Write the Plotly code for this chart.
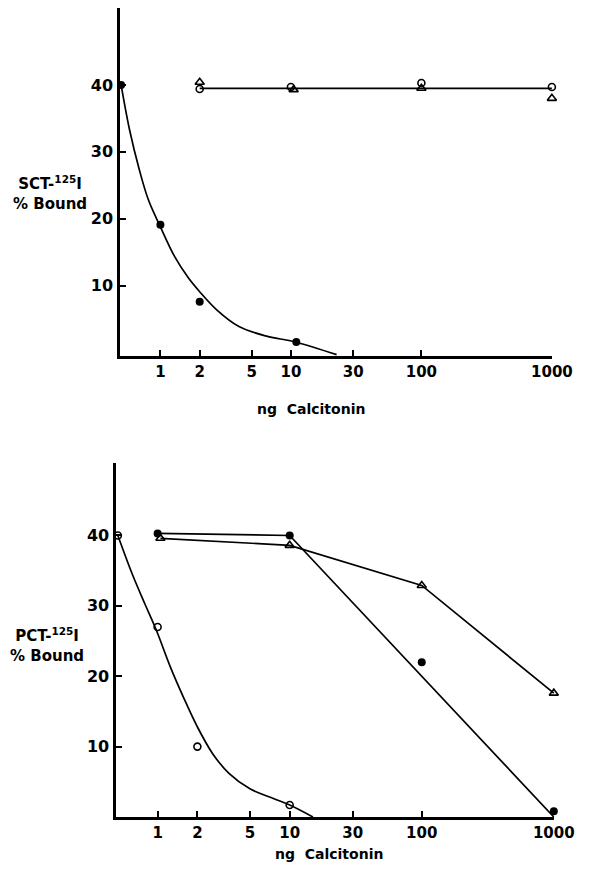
import plotly.graph_objects as go
import numpy as np

# ---- data ----
# control (0 ng) plotted at the axis origin, 0.5 ng position
tick_vals = [1, 2, 5, 10, 30, 100, 1000]
tick_text = ["1", "2", "5", "10", "30", "100", "1000"]
y_ticks = [10, 20, 30, 40]

# Top panel: SCT-125I % bound
sct_fill_x = [0.5, 1, 2, 11]
sct_fill_y = [40, 19.1, 7.6, 1.6]
sct_fit_x = [0.5, 0.58, 0.69, 0.81, 1, 1.29, 1.62, 2, 2.7, 4.0, 6.4, 10.8, 22.4]
sct_fit_y = [40, 33.3, 27.3, 22.8, 18.8, 14.3, 11.3, 9.1, 6.4, 3.9, 2.5, 1.6, -0.3]
sct_open_x = [2, 10, 100, 1000]
sct_open_y = [39.4, 39.7, 40.3, 39.7]
sct_tri_x = [2, 10.5, 100, 1000]
sct_tri_y = [40.4, 39.3, 39.5, 38.0]
sct_line_x = [2, 10, 100, 1000]
sct_line_y = [39.5, 39.5, 39.5, 39.5]

# Bottom panel: PCT-125I % bound
pct_open_x = [0.5, 1, 2, 10]
pct_open_y = [40, 27, 10, 1.7]
pct_fit_x = [0.5, 0.64, 0.8, 0.98, 1.25, 1.57, 2, 2.61, 3.47, 5, 7.6, 10, 15]
pct_fit_y = [40, 34.6, 30.3, 26.5, 21.3, 17.0, 12.8, 9.0, 6.2, 4.0, 2.6, 1.7, 0]
pct_fill_x = [1, 10, 100, 1000]
pct_fill_y = [40.3, 40.0, 22.0, 0.8]
pct_fill_line_x = [1, 10, 1000]
pct_fill_line_y = [40.3, 40.0, 0]
pct_tri_x = [1.05, 10, 100, 1000]
pct_tri_y = [39.6, 38.6, 32.9, 17.6]

BLACK = "#000000"
FONT = "DejaVu Sans"

fig = go.Figure()

def add(x, y, mode, xa, ya, marker=None, line=None, shape="linear"):
    kw = dict(x=x, y=y, mode=mode, xaxis=xa, yaxis=ya, showlegend=False,
              hoverinfo="skip", cliponaxis=False)
    if marker:
        kw["marker"] = marker
    if line:
        kw["line"] = dict(line, shape=shape)
    fig.add_trace(go.Scatter(**kw))

filled = dict(symbol="circle", size=8, color=BLACK)
opencirc = dict(symbol="circle-open", size=7, color=BLACK, line=dict(width=1.6, color=BLACK))
opentri = dict(symbol="triangle-up-open", size=8, color=BLACK, line=dict(width=1.6, color=BLACK))
ln = dict(color=BLACK, width=1.7)

# top
add(sct_fit_x, sct_fit_y, "lines", "x", "y", line=ln, shape="spline")
add(sct_fill_x, sct_fill_y, "markers", "x", "y", marker=filled)
add(sct_line_x, sct_line_y, "lines", "x", "y", line=ln)
add(sct_open_x, sct_open_y, "markers", "x", "y", marker=opencirc)
add(sct_tri_x, sct_tri_y, "markers", "x", "y", marker=opentri)

# bottom
add(pct_fit_x, pct_fit_y, "lines", "x2", "y2", line=ln, shape="spline")
add(pct_open_x, pct_open_y, "markers", "x2", "y2", marker=opencirc)
add(pct_fill_line_x, pct_fill_line_y, "lines", "x2", "y2", line=ln)
add(pct_fill_x, pct_fill_y, "markers", "x2", "y2", marker=filled)
add(pct_tri_x, pct_tri_y, "lines+markers", "x2", "y2", marker=opentri, line=ln)

# figure sized so that it plus the page's 8px body margin fills the 593x875 window
PAGE_W, PAGE_H, BODY = 593, 875, 8
W, H = PAGE_W - 2 * BODY, PAGE_H - 2 * BODY

def px(xd):
    return (xd - BODY) / W

def py(yd):
    return 1 - (yd - BODY) / H

def xaxis(dom, anchor, rng):
    return dict(type="log", domain=dom, anchor=anchor, range=rng,
                tickvals=tick_vals, ticktext=tick_text, ticks="inside", ticklen=6,
                tickwidth=1.8, tickcolor=BLACK, showline=True, linewidth=2.5,
                linecolor=BLACK, showgrid=False, zeroline=False,
                tickfont=dict(family=FONT, size=15, color=BLACK, weight=700),
                ticklabelstandoff=0, ticklabeloverflow="allow")

def yaxis(dom, anchor, rng):
    return dict(domain=dom, anchor=anchor, range=rng, tickvals=y_ticks,
                ticks="inside", ticklen=6, tickwidth=1.8, tickcolor=BLACK,
                showline=True, linewidth=2.5, linecolor=BLACK, showgrid=False,
                zeroline=False, tickfont=dict(family=FONT, size=16, color=BLACK, weight=700),
                ticklabelstandoff=1)

fig.update_layout(
    width=W, height=H, margin=dict(l=0, r=0, t=0, b=0),
    paper_bgcolor="white", plot_bgcolor="white",
    xaxis=xaxis([px(124), px(572)], "y", [np.log10(0.49), np.log10(1010)]),
    yaxis=yaxis([py(356), py(8)], "x", [-0.5, 51.5]),
    xaxis2=xaxis([px(120), px(574)], "y2", [np.log10(0.485), np.log10(1010)]),
    yaxis2=yaxis([py(817), py(463)], "x2", [0, 50.3]),
)

def ann(text, xpx, ypx, size=15, align="center"):
    fig.add_annotation(text=text, x=px(xpx), y=py(ypx), xref="paper", yref="paper",
                       showarrow=False, align=align, xanchor="center", yanchor="middle",
                       font=dict(family=FONT, size=size, color=BLACK, weight=700))

ann("SCT-<sup>125</sup>I<br>% Bound", 52, 193)
ann("PCT-<sup>125</sup>I<br>% Bound", 48, 645)
ann("ng  Calcitonin", 322, 409, size=14)
ann("ng  Calcitonin", 341, 854, size=14)

fig.write_html(
    "out.html",
    config={"displayModeBar": False},
    post_script="document.querySelectorAll('.main-svg').forEach(function(s){s.style.overflow='visible';});",
)
